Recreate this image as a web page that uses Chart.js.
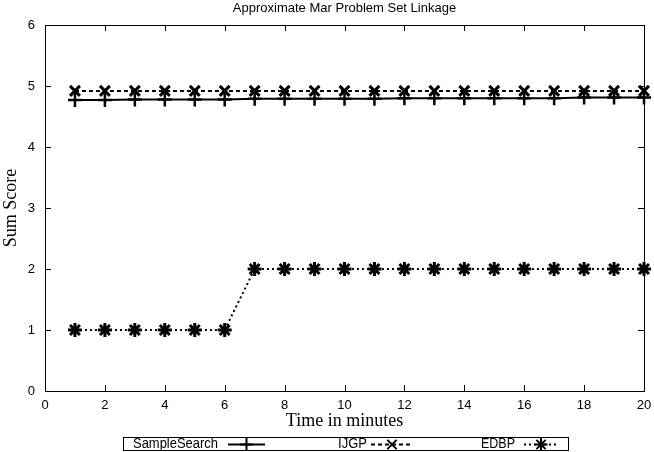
<!DOCTYPE html>
<html><head><meta charset="utf-8">
<script src="https://cdn.jsdelivr.net/npm/chart.js@4/dist/chart.umd.min.js"></script>
<style>html,body{margin:0;padding:0;background:#fff;}canvas{display:block;}</style>
</head><body>
<canvas id="c" width="654" height="452"></canvas>
<script>
const minutes = [1,2,3,4,5,6,7,8,9,10,11,12,13,14,15,16,17,18,19,20];
const sampleSearch = [4.77,4.77,4.78,4.78,4.78,4.78,4.79,4.79,4.79,4.79,4.79,4.80,4.80,4.80,4.80,4.80,4.80,4.81,4.81,4.81];
const ijgp = [4.92,4.92,4.92,4.92,4.92,4.92,4.92,4.92,4.92,4.92,4.92,4.92,4.92,4.92,4.92,4.92,4.92,4.92,4.92,4.92];
const edbp = [1,1,1,1,1,1,2,2,2,2,2,2,2,2,2,2,2,2,2,2];
const seriesNames = ['SampleSearch','IJGP','EDBP'];
const chartTitle = 'Approximate Mar Problem Set Linkage';
const xTicks = [0,2,4,6,8,10,12,14,16,18,20];
const yTicks = [0,1,2,3,4,5,6];

const toPts = arr => arr.map((v,i)=>({x:minutes[i], y:v}));
const sans = '"Liberation Sans", Arial, sans-serif';
const serif = '"Liberation Serif", "Times New Roman", serif';

const frame = {
  id:'frame',
  afterDraw(chart){
    const {ctx, chartArea:a, scales:{x,y}} = chart;
    ctx.save();
    ctx.strokeStyle='#000'; ctx.fillStyle='#000'; ctx.lineWidth=1;
    ctx.strokeRect(Math.round(a.left)+0.5, Math.round(a.top)+0.5, Math.round(a.right-a.left), Math.round(a.bottom-a.top));
    ctx.beginPath();
    xTicks.forEach(t=>{ const px=Math.round(x.getPixelForValue(t))+0.5;
      ctx.moveTo(px,a.bottom); ctx.lineTo(px,a.bottom-6);
      ctx.moveTo(px,a.top); ctx.lineTo(px,a.top+6); });
    yTicks.forEach(t=>{ const py=Math.round(y.getPixelForValue(t))+0.5;
      ctx.moveTo(a.left,py); ctx.lineTo(a.left+6,py);
      ctx.moveTo(a.right,py); ctx.lineTo(a.right-6,py); });
    ctx.stroke();
    // title
    ctx.font='13px '+sans; ctx.textAlign='center'; ctx.textBaseline='middle';
    ctx.fillText(chartTitle, (a.left+a.right)/2, 8, 226);
    // legend
    const lx=123, ly=437, lw=445, lh=13;
    ctx.strokeRect(lx+0.5, ly+0.5, lw, lh);
    ctx.font='14px '+sans; ctx.textBaseline='middle';
    const cy = ly+lh/2+1;
    const items = [
      {t:seriesNames[0], tx:133, w:85, s:228, e:265, ds:0},
      {t:seriesNames[1], tx:338, w:29, s:371, e:413, ds:1},
      {t:seriesNames[2], tx:481, w:34, s:524, e:558, ds:2}
    ];
    items.forEach(it=>{
      ctx.textAlign='left';
      ctx.fillText(it.t, it.tx, cy, it.w);
      const d = chart.data.datasets[it.ds];
      ctx.beginPath(); ctx.setLineDash(d.borderDash||[]); ctx.lineWidth=2;
      ctx.moveTo(it.s, cy); ctx.lineTo(it.e, cy); ctx.stroke();
      ctx.setLineDash([]);
      Chart.helpers.drawPoint(ctx, {pointStyle:d.pointStyle, radius:6.5, borderWidth:2.5}, (it.s+it.e)/2, cy);
    });
    ctx.restore();
  }
};

new Chart(document.getElementById('c'), {
  type:'line',
  data:{ datasets:[
    {label:seriesNames[0], data:toPts(sampleSearch), borderColor:'#000', backgroundColor:'#000', borderWidth:2, pointStyle:'cross', pointRadius:7, pointBorderWidth:2.5, tension:0},
    {label:seriesNames[1], data:toPts(ijgp), borderColor:'#000', backgroundColor:'#000', borderWidth:2, borderDash:[4,3], pointStyle:'crossRot', pointRadius:7, pointBorderWidth:3, tension:0},
    {label:seriesNames[2], data:toPts(edbp), borderColor:'#000', backgroundColor:'#000', borderWidth:2, borderDash:[2,3], pointStyle:'star', pointRadius:7, pointBorderWidth:3, tension:0}
  ]},
  options:{
    responsive:false, animation:false, clip:false,
    layout:{padding:{left:0,right:7,top:25,bottom:20}},
    plugins:{ legend:{display:false}, tooltip:{enabled:false}, title:{display:false} },
    scales:{
      x:{type:'linear', min:0, max:20, grid:{display:false, drawTicks:false}, border:{display:false},
        afterBuildTicks(s){ s.ticks = xTicks.map(v=>({value:v})); },
        afterFit(s){ s.height = 41; s.paddingLeft = 0; s.paddingRight = 0; },
        ticks:{color:'#000', font:{family:sans, size:13}, padding:7, maxRotation:0},
        title:{display:true, text:'Time in minutes', color:'#000', font:{family:serif, size:18}, padding:{top:0,bottom:0}}},
      y:{min:0, max:6, grid:{display:false, drawTicks:false}, border:{display:false},
        afterBuildTicks(s){ s.ticks = yTicks.map(v=>({value:v})); },
        afterFit(s){ s.width = 45; s.paddingTop = 0; s.paddingBottom = 0; },
        ticks:{color:'#000', font:{family:sans, size:13}, padding:10},
        title:{display:true, text:'Sum Score', color:'#000', font:{family:serif, size:18}, padding:{top:0,bottom:4}}}
    }
  },
  plugins:[frame]
});
</script>
</body></html>
